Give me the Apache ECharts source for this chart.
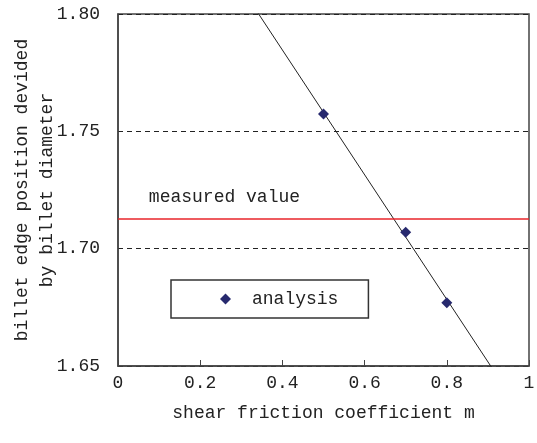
<!DOCTYPE html>
<html>
<head>
<meta charset="utf-8">
<script src="https://cdn.jsdelivr.net/npm/echarts@6/dist/echarts.min.js"></script>
<style>
  html, body { margin: 0; padding: 0; background: #fff; }
  #chart { width: 537px; height: 443px; }
</style>
</head>
<body>
<div id="chart"></div>
<script>
// data
const frictionM = [0.5, 0.7, 0.8];
const edgeRatio = [1.7574, 1.707, 1.677];
const measuredValue = 1.7128;
const xTicks = [0, 0.2, 0.4, 0.6, 0.8, 1];
const yTicks = [1.65, 1.70, 1.75, 1.80];

// linear trend line through the analysis points
const n = frictionM.length;
const mx = frictionM.reduce((a, b) => a + b, 0) / n;
const my = edgeRatio.reduce((a, b) => a + b, 0) / n;
let sxy = 0, sxx = 0;
for (let i = 0; i < n; i++) {
  sxy += (frictionM[i] - mx) * (edgeRatio[i] - my);
  sxx += (frictionM[i] - mx) * (frictionM[i] - mx);
}
const slope = sxy / sxx;
const intercept = my - slope * mx;
const trend = [xTicks[0], xTicks[xTicks.length - 1]].map((x) => [x, intercept + slope * x]);

const font = '"Liberation Mono", "DejaVu Sans Mono", monospace';

const chart = echarts.init(document.getElementById('chart'));

const option = {
  animation: false,
  textStyle: { fontFamily: font },
  grid: {
    left: 118,
    right: 8,
    top: 14,
    bottom: 77,
    outerBoundsMode: 'none',
    containLabel: false,
    show: true,
    borderColor: '#444',
    borderWidth: 1.5
  },
  legend: {
    data: ['analysis'],
    left: 171,
    top: 280,
    icon: 'diamond',
    itemWidth: 11,
    itemHeight: 11,
    itemGap: 0,
    padding: [10, 30, 10, 49],
    borderColor: '#333',
    borderWidth: 1.5,
    textStyle: {
      fontFamily: font,
      fontSize: 18,
      color: '#222',
      padding: [0, 0, 0, 16]
    }
  },
  xAxis: {
    type: 'value',
    min: 0,
    max: 1,
    interval: 0.2,
    name: 'shear friction coefficient m',
    nameLocation: 'middle',
    nameGap: 38,
    nameMoveOverlap: false,
    nameTextStyle: { fontFamily: font, fontSize: 18, color: '#222' },
    axisLine: { lineStyle: { color: '#444', width: 1.5 } },
    axisTick: { inside: true, length: 6, lineStyle: { color: '#444' } },
    axisLabel: {
      fontFamily: font,
      fontSize: 18,
      color: '#222',
      margin: 8,
      formatter: (v) => String(Number(v.toFixed(1)))
    },
    splitLine: { show: false }
  },
  yAxis: {
    type: 'value',
    min: 1.65,
    max: 1.80,
    interval: 0.05,
    name: 'billet edge position devided\nby billet diameter',
    nameLocation: 'middle',
    nameGap: 58,
    nameRotate: 90,
    nameMoveOverlap: false,
    nameTextStyle: { fontFamily: font, fontSize: 18, color: '#222', lineHeight: 25 },
    axisLine: { lineStyle: { color: '#444', width: 1.5 } },
    axisTick: { show: false },
    axisLabel: {
      fontFamily: font,
      fontSize: 18,
      color: '#222',
      margin: 18,
      formatter: (v) => v.toFixed(2)
    },
    splitLine: { lineStyle: { color: '#222', type: [5, 4], width: 1 } }
  },
  series: [
    {
      name: 'trend',
      type: 'line',
      data: trend,
      symbol: 'none',
      clip: true,
      lineStyle: { color: '#222', width: 1 },
      z: 3,
      markLine: {
        silent: true,
        symbol: 'none',
        precision: 4,
        lineStyle: { color: '#e8252a', type: 'solid', width: 1.5 },
        label: { show: false },
        data: [{ yAxis: measuredValue }]
      }
    },
    {
      name: 'analysis',
      type: 'scatter',
      data: frictionM.map((x, i) => [x, edgeRatio[i]]),
      symbol: 'diamond',
      symbolSize: 11,
      itemStyle: { color: '#27296e', opacity: 1 },
      z: 4
    }
  ]
};

chart.setOption(option);

// label for the measured value line, anchored to data coordinates
const labelPos = chart.convertToPixel({ gridIndex: 0 }, [0.075, measuredValue]);
chart.setOption({
  graphic: [{
    type: 'text',
    left: labelPos[0],
    top: labelPos[1] - 30,
    style: {
      text: 'measured value',
      font: '18px ' + font,
      fill: '#222'
    }
  }]
});
</script>
</body>
</html>
